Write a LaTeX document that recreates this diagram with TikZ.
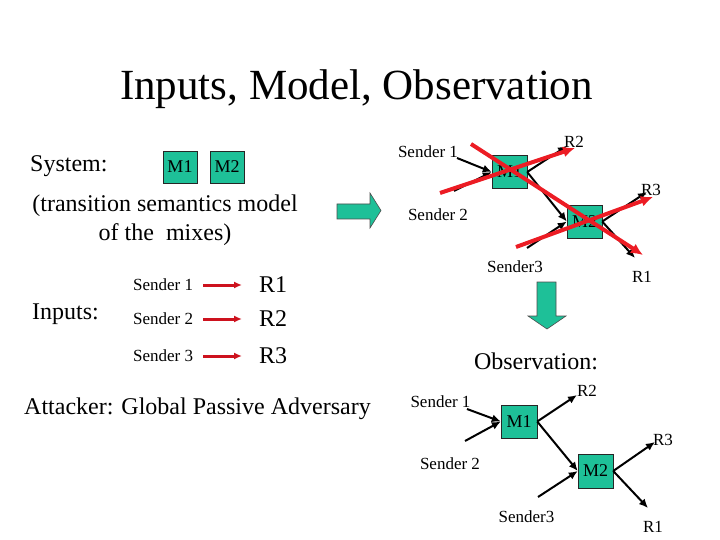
\documentclass[tikz,border=0pt]{standalone}
\usepackage{fontspec}
\setmainfont{Liberation Serif}
\usepackage{tikz}
\usetikzlibrary{arrows.meta,calc,positioning}

\definecolor{mixgreen}{RGB}{30,192,152}
\definecolor{crossred}{RGB}{236,28,36}
\definecolor{arrowred}{RGB}{205,18,30}

\begin{document}
\begin{tikzpicture}[
  x=1pt, y=-1pt,
  mix/.style={rectangle, draw=black!85, fill=mixgreen, inner sep=0pt, minimum width=35pt, minimum height=33pt, font=\fontsize{18}{20}\selectfont},
  lbl/.style={inner sep=0pt, font=\fontsize{17}{19}\selectfont},
  big/.style={inner sep=0pt, font=\fontsize{24}{29}\selectfont},
  flow/.style={-{Latex[length=9pt,width=8pt]}, line width=2pt, black},
  cross/.style={-{Latex[length=12pt,width=11pt]}, line width=4pt, crossred},
  maps/.style={-{Latex[length=8pt,width=7pt]}, line width=3pt, arrowred},
  block/.style={fill=mixgreen, draw=black!70, line width=0.6pt},
]
\useasboundingbox (0,0) rectangle (720,540);

% Title
\node[inner sep=0pt, anchor=base, font=\fontsize{43}{46}\selectfont] (title) at (356.5,100) {Inputs, Model, Observation};

% System description
\node[big, anchor=west] (sys) at (30,166) {System:};
\node[mix, minimum width=34pt, minimum height=32pt] (sM1) at (180,167) {M1};
\node[mix, minimum width=34pt, minimum height=32pt] (sM2) at (227,167) {M2};
\node[big, align=center] (sem) at (165,220) {(transition semantics model\\of the\ \ mixes)};

% Inputs
\node[big, anchor=west] (inp) at (32,314) {Inputs:};
\node[lbl, anchor=west] (iS1) at (133,285) {Sender 1};
\node[lbl, anchor=west] (iS2) at (133,319) {Sender 2};
\node[lbl, anchor=west] (iS3) at (133,356) {Sender 3};
\node[big, anchor=west] (iR1) at (259,285) {R1};
\node[big, anchor=west] (iR2) at (259,319) {R2};
\node[big, anchor=west] (iR3) at (259,356) {R3};
\draw[maps, shorten <=10pt, shorten >=17pt] (iS1) -- (iR1);
\draw[maps, shorten <=10pt, shorten >=17pt] (iS2) -- (iR2);
\draw[maps, shorten <=10pt, shorten >=17pt] (iS3) -- (iR3);

% Attacker
\node[big, anchor=west] (att) at (24,409) {Attacker: Global Passive Adversary};

% Block arrows
\draw[block] (337,204) -- (370,204) -- (370,193) -- (381,210.5) -- (370,228) -- (370,219) -- (337,219) -- cycle;
\draw[block] (537,282) -- (556,282) -- (556,316) -- (566,316) -- (547,329) -- (528,316) -- (537,316) -- cycle;

% Model (crossed out)
\node[mix] (tM1) at (509.5,172) {M1};
\node[mix] (tM2) at (584.5,221.5) {M2};
\node[lbl] (tS1) at (428,152) {Sender 1};
\node[lbl] (tS2) at (438,215) {Sender 2};
\node[lbl] (tS3) at (515,267) {Sender3};
\node[lbl] (tR2) at (574,142) {R2};
\node[lbl] (tR3) at (651,190) {R3};
\node[lbl] (tR1) at (642,277) {R1};
\coordinate (tS1e) at (457,158);
\coordinate (tS2e) at (454,191);
\coordinate (tS3e) at (527,248);
\coordinate (tR2e) at (567,146);
\coordinate (tR3e) at (647,192);
\coordinate (tR1e) at (635,258);
\draw[flow] (tS1e) -- (tM1.west);
\draw[flow] (tS2e) -- (tM1.west);
\draw[flow] (tM1.east) -- (tR2e);
\draw[flow] (tM1.east) -- (tM2.west);
\draw[flow] (tS3e) -- (tM2.west);
\draw[flow] (tM2.east) -- (tR3e);
\draw[flow] (tM2.east) -- (tR1e);

% Red crosses
\coordinate (x1a) at (471,144);
\coordinate (x1b) at (643,255);
\coordinate (x2a) at (440,193);
\coordinate (x2b) at (575,148);
\coordinate (x3a) at (516,247);
\coordinate (x3b) at (653,197);
\draw[cross] (x1a) -- (x1b);
\draw[cross] (x2a) -- (x2b);
\draw[cross] (x3a) -- (x3b);

% Observation
\node[big] (obs) at (536,361) {Observation:};
\node[mix, minimum width=36pt] (bM1) at (519,421.5) {M1};
\node[mix, minimum height=34pt] (bM2) at (595.5,471) {M2};
\node[lbl] (bS1) at (440.5,402) {Sender 1};
\node[lbl] (bS2) at (450,464) {Sender 2};
\node[lbl] (bS3) at (526.5,517) {Sender3};
\node[lbl] (bR2) at (587,391) {R2};
\node[lbl] (bR3) at (663,440) {R3};
\node[lbl] (bR1) at (653,527) {R1};
\coordinate (bS1e) at (467,409);
\coordinate (bS2e) at (465,441);
\coordinate (bS3e) at (538,497);
\coordinate (bR2e) at (577,395);
\coordinate (bR3e) at (655,442);
\coordinate (bR1e) at (648,508);
\draw[flow] (bS1e) -- (bM1.west);
\draw[flow] (bS2e) -- (bM1.west);
\draw[flow] (bM1.east) -- (bR2e);
\draw[flow] (bM1.east) -- (bM2.west);
\draw[flow] (bS3e) -- (bM2.west);
\draw[flow] (bM2.east) -- (bR3e);
\draw[flow] (bM2.east) -- (bR1e);
\end{tikzpicture}
\end{document}
